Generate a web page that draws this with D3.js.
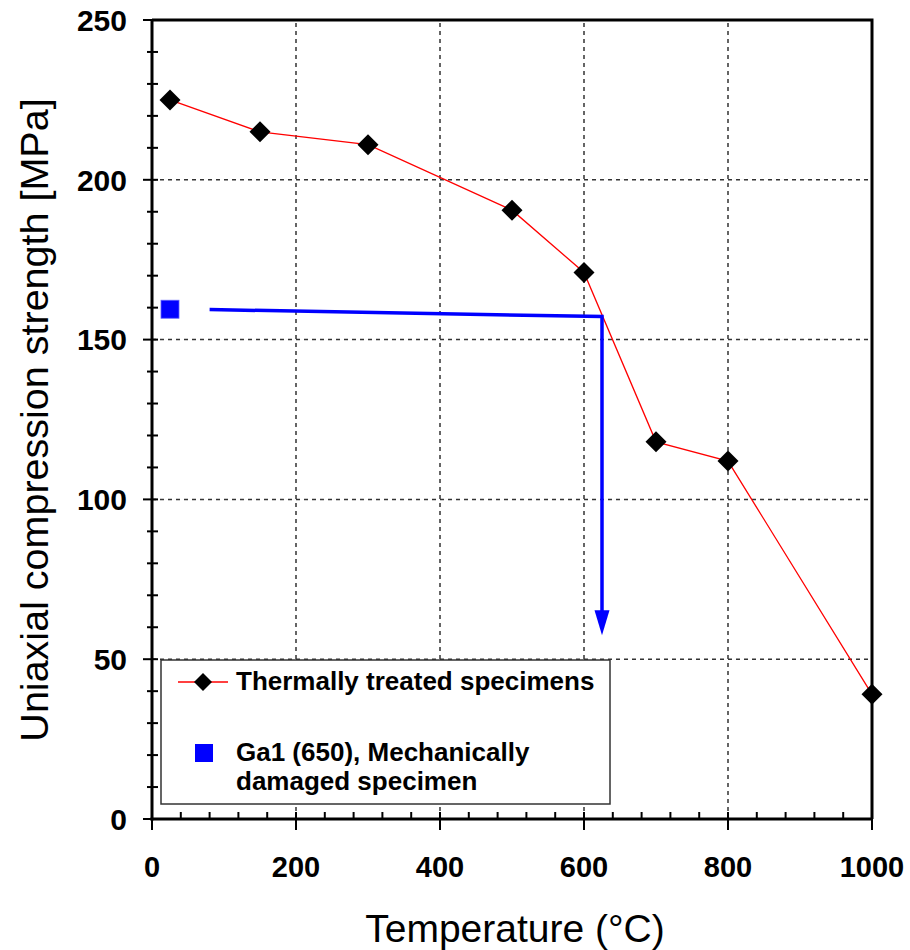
<!DOCTYPE html>
<html><head><meta charset="utf-8">
<script src="https://cdn.jsdelivr.net/npm/d3@7"></script>
<style>body{margin:0;background:#fff}svg{display:block;font-family:Arial,"Liberation Sans",sans-serif}</style>
</head><body><svg id="c" width="910" height="950"></svg>
<script>
const temps = [25,150,300,500,600,700,800,1000];
const strength = [225,215,211,190.5,171,118,112,39];
const damagedT = [25];
const damagedS = [159.5];
const guideT = [80,625,625];
const guideS = [159.4,157.2,65];
const arrowTipS = 57.5;
const xTicks = [0,200,400,600,800,1000];
const yTicks = [0,50,100,150,200,250];
const xMinor = d3.range(0,1001,40);
const yMinor = d3.range(0,251,10);
const legendLabels = ["Thermally treated specimens","Ga1 (650), Mechanically","damaged specimen"];

const svg = d3.select("#c");
const x = d3.scaleLinear().domain([0,1000]).range([152,872]);
const y = d3.scaleLinear().domain([0,250]).range([819,20]);

// grid
svg.append("g").selectAll("line").data(xTicks.filter(d=>d>0&&d<1000)).join("line")
 .attr("x1",d=>x(d)).attr("x2",d=>x(d)).attr("y1",y(0)).attr("y2",y(250))
 .attr("stroke","#333").attr("stroke-width",1.5).attr("stroke-dasharray","4,4");
svg.append("g").selectAll("line").data(yTicks.filter(d=>d>0&&d<250)).join("line")
 .attr("y1",d=>y(d)).attr("y2",d=>y(d)).attr("x1",x(0)).attr("x2",x(1000))
 .attr("stroke","#333").attr("stroke-width",1.5).attr("stroke-dasharray","4,4");

// frame top/right
svg.append("path").attr("d",`M${x(0)},${y(250)}H${x(1000)}V${y(0)}`)
 .attr("fill","none").attr("stroke","#000").attr("stroke-width",3);

// axes with ticks
const ax = svg.append("g");
ax.selectAll("line.xm").data(xMinor).join("line").attr("class","xm")
 .attr("x1",d=>x(d)).attr("x2",d=>x(d)).attr("y1",y(0)-7).attr("y2",d=>xTicks.includes(d)?y(0)+11:y(0))
 .attr("stroke","#000").attr("stroke-width",2);
ax.selectAll("line.ym").data(yMinor).join("line").attr("class","ym")
 .attr("y1",d=>y(d)).attr("y2",d=>y(d)).attr("x1",x(0)+6).attr("x2",d=>yTicks.includes(d)?x(0)-9:x(0)-5)
 .attr("stroke","#000").attr("stroke-width",2);
ax.append("line").attr("x1",x(0)).attr("x2",x(0)).attr("y1",y(250)).attr("y2",y(0)+1.5).attr("stroke","#000").attr("stroke-width",3);
ax.append("line").attr("x1",x(0)-1.5).attr("x2",x(1000)).attr("y1",y(0)).attr("y2",y(0)).attr("stroke","#000").attr("stroke-width",3);

ax.selectAll("text.xl").data(xTicks).join("text").attr("class","xl")
 .attr("x",d=>x(d)).attr("y",877).attr("text-anchor","middle")
 .attr("font-size",29).attr("font-weight","bold").text(d=>d);
ax.selectAll("text.yl").data(yTicks).join("text").attr("class","yl")
 .attr("x",127).attr("y",d=>y(d)).attr("dy","0.36em").attr("text-anchor","end")
 .attr("font-size",30).attr("font-weight","bold").text(d=>d);

svg.append("text").attr("x",515).attr("y",942).attr("text-anchor","middle")
 .attr("font-size",39).text("Temperature (°C)");
svg.append("text").attr("transform","translate(48,420) rotate(-90)").attr("text-anchor","middle")
 .attr("font-size",39.5).text("Uniaxial compression strength [MPa]");

// red series
const pts = temps.map((t,i)=>[t,strength[i]]);
svg.append("path").datum(pts).attr("d",d3.line().x(d=>x(d[0])).y(d=>y(d[1])))
 .attr("fill","none").attr("stroke","#ff0000").attr("stroke-width",1.3);
const diamond = s=>`M0,${-s}L${s},0L0,${s}L${-s},0Z`;
svg.append("g").selectAll("path").data(pts).join("path")
 .attr("transform",d=>`translate(${x(d[0])},${y(d[1])})`).attr("d",diamond(10.5)).attr("fill","#000");

// blue guide
const gp = guideT.map((t,i)=>[t,guideS[i]]);
svg.append("path").datum(gp).attr("d",d3.line().x(d=>x(d[0])).y(d=>y(d[1])))
 .attr("fill","none").attr("stroke","#0000ff").attr("stroke-width",3.5);
const tx = x(guideT[2]);
svg.append("path").attr("d",`M${tx-7.5},${y(guideS[2])-1}L${tx+7.5},${y(guideS[2])-1}L${tx},${y(arrowTipS)}Z`).attr("fill","#0000ff");

// blue square
svg.append("g").selectAll("rect").data(damagedT).join("rect")
 .attr("x",(d)=>x(d)-9).attr("y",(d,i)=>y(damagedS[i])-9).attr("width",18).attr("height",18)
 .attr("fill","#0000ff").attr("stroke","#6060ff").attr("stroke-width",0.8);

// legend
const lg = svg.append("g");
lg.append("rect").attr("x",161).attr("y",660).attr("width",449).attr("height",144)
 .attr("fill","#fff").attr("stroke","#333").attr("stroke-width",1.5);
lg.append("line").attr("x1",178).attr("x2",228).attr("y1",682).attr("y2",682).attr("stroke","#ff0000").attr("stroke-width",1.3);
lg.append("path").attr("transform","translate(203,682)").attr("d",diamond(9)).attr("fill","#000");
lg.append("rect").attr("x",195).attr("y",744).attr("width",18).attr("height",18).attr("fill","#0000ff");
lg.append("text").attr("x",236).attr("y",690).attr("font-size",26).attr("font-weight","bold").text(legendLabels[0]);
lg.append("text").attr("x",236).attr("y",761).attr("font-size",26).attr("font-weight","bold").text(legendLabels[1]);
lg.append("text").attr("x",236).attr("y",790).attr("font-size",26).attr("font-weight","bold").text(legendLabels[2]);
</script></body></html>
